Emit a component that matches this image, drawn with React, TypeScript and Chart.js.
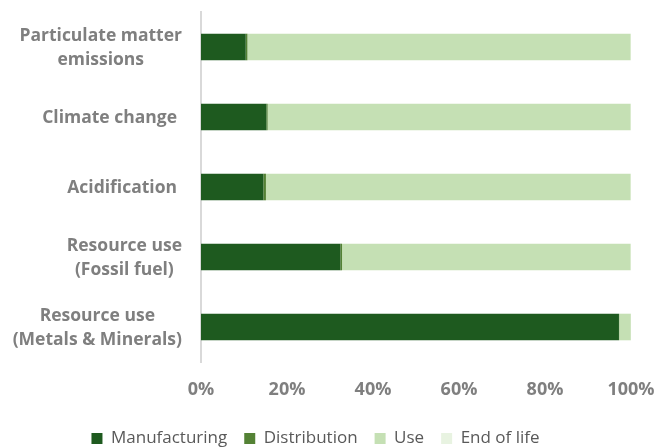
import React, { useEffect, useRef } from "react";
import { Chart, registerables } from "chart.js";

Chart.register(...registerables);

const categories: string[][] = [
  ["Particulate matter", "emissions"],
  ["Climate change"],
  ["Acidification"],
  ["Resource use", "(Fossil fuel)"],
  ["Resource use", "(Metals & Minerals)"],
];
const manufacturing = [10.4, 15.2, 14.5, 32.4, 97.2];
const distribution = [0.4, 0.3, 0.6, 0.4, 0.05];
const use = [89.1, 84.4, 84.8, 67.1, 2.7];
const endOfLife = [0.1, 0.1, 0.1, 0.1, 0.05];
const xTicks = [0, 20, 40, 60, 80, 100];

const FONT = "'Open Sans', 'Noto Sans', sans-serif";
const LABEL_COLOR = "#7f7f7f";

const yLabelPlugin = {
  id: "yLabelPlugin",
  afterLayout(chart: any) {
    // shift the legend's centring region slightly left, as in the reference
    if (chart.legend) chart.legend.right = chart.legend.right - 25;
  },
  afterDraw(chart: any) {
    const ctx = chart.ctx;
    const y = chart.scales.y;
    ctx.save();
    ctx.font = `bold 17.5px ${FONT}`;
    ctx.fillStyle = LABEL_COLOR;
    ctx.textBaseline = "middle";
    ctx.textAlign = "center";
    const lineH = 24;
    categories.forEach((lines, i) => {
      const rightEdge = lines.length > 1 ? 182 : 177;
      const cy = y.getPixelForTick(i) + 1;
      const w = Math.max(...lines.map((l) => ctx.measureText(l).width));
      const cx = rightEdge - w / 2;
      const start = cy - ((lines.length - 1) * lineH) / 2;
      lines.forEach((l, k) => ctx.fillText(l, cx, start + k * lineH));
    });
    ctx.restore();
  },
};

export default function App() {
  const ref = useRef<HTMLCanvasElement>(null);
  useEffect(() => {
    document.body.style.margin = "0";
    const chart = new Chart(ref.current!, {
      type: "bar",
      data: {
        labels: categories.map((c) => c.join(" ")),
        datasets: [
          { label: "Manufacturing", data: manufacturing, backgroundColor: "#1e5a1f" },
          { label: "Distribution", data: distribution, backgroundColor: "#548235" },
          { label: "Use", data: use, backgroundColor: "#c5e0b4" },
          { label: "End of life", data: endOfLife, backgroundColor: "#e8f3e1" },
        ],
      },
      options: {
        indexAxis: "y",
        animation: false,
        responsive: false,
        maintainAspectRatio: false,
        datasets: { bar: { categoryPercentage: 1, barPercentage: 0.38 } },
        layout: { padding: { left: 0, right: 0, top: 12, bottom: -9 } },
        plugins: {
          tooltip: { enabled: false },
          legend: {
            position: "bottom",
            labels: {
              boxWidth: 11,
              boxHeight: 11,
              padding: 17,
              color: "#595959",
              font: { family: FONT, size: 17 },
            },
          },
        },
        scales: {
          x: {
            stacked: true,
            min: 0,
            max: 100,
            afterBuildTicks: (s: any) => {
              s.ticks = xTicks.map((v) => ({ value: v }));
            },
            afterFit: (s: any) => {
              s.height = 51;
              s.paddingRight = 25;
              s.paddingLeft = 0;
            },
            grid: { display: false },
            border: { display: false },
            ticks: {
              padding: 9,
              color: LABEL_COLOR,
              font: { family: FONT, size: 18, weight: "bold" },
              callback: (v: any) => `${v}%`,
              maxRotation: 0,
            },
          },
          y: {
            stacked: true,
            grid: { display: false },
            border: { display: true, color: "#d9d9d9", width: 2 },
            ticks: { display: false },
            afterFit: (s: any) => {
              s.width = 201;
            },
          },
        },
      },
      plugins: [yLabelPlugin],
    } as any);
    return () => chart.destroy();
  }, []);
  return (
    <div style={{ width: 656, height: 448 }}>
      <canvas ref={ref} width={656} height={448} style={{ display: "block" }} />
    </div>
  );
}
